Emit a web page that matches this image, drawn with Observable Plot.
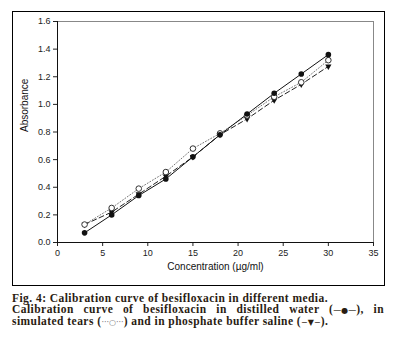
<!DOCTYPE html>
<html>
<head>
<meta charset="utf-8">
<script src="https://cdn.jsdelivr.net/npm/d3@7"></script>
<script src="https://cdn.jsdelivr.net/npm/@observablehq/plot@0.6"></script>
<style>
  html, body { margin: 0; padding: 0; background: #fff; }
  #wrap { position: relative; width: 401px; height: 353px; overflow: hidden; }
  #frame { position: absolute; left: 12px; top: 11px; width: 371px; height: 273px; border: 1px solid #000; pointer-events: none; }
  #chart { position: absolute; left: 0; top: 0; }
  #caption { position: absolute; left: 12px; top: 293px; width: 372px;
    font-family: "Liberation Serif", "DejaVu Serif", serif; font-weight: bold; font-size: 11.5px;
    letter-spacing: 0.45px; line-height: 10.6px; color: #2a1c12; }
  #caption div { white-space: nowrap; }
  #caption .just { text-align: justify; text-align-last: justify; white-space: normal; }
  .g { display: inline-block; font-family: "DejaVu Sans", sans-serif; font-weight: normal; font-size: 8px; letter-spacing: 0; }
</style>
</head>
<body>
<div id="wrap">
  <div id="chart"></div>
  <div id="frame"></div>
  <div id="caption">
    <div>Fig. 4: Calibration curve of besifloxacin in different media.</div>
    <div class="just">Calibration curve of besifloxacin in distilled water (<span class="g">—●—</span>), in</div>
    <div>simulated tears (<span class="g" style="color:#777">···○···</span>) and in phosphate buffer saline (<span class="g">−▼−</span>).</div>
  </div>
</div>
<script>
const concentration = [3, 6, 9, 12, 15, 18, 21, 24, 27, 30];
const distilledWater = [0.07, 0.20, 0.34, 0.46, 0.62, 0.78, 0.93, 1.08, 1.22, 1.36];
const simulatedTears = [0.13, 0.25, 0.39, 0.51, 0.68, 0.79, 0.92, 1.055, 1.16, 1.32];
const phosphateBuffer = [0.13, 0.22, 0.35, 0.48, 0.62, 0.78, 0.895, 1.03, 1.145, 1.275];
const xTicks = [0, 5, 10, 15, 20, 25, 30, 35];
const yTicks = [0.0, 0.2, 0.4, 0.6, 0.8, 1.0, 1.2, 1.4, 1.6];

const mk = (vals) => concentration.map((c, i) => ({x: c, y: vals[i]}));
const water = mk(distilledWater);
const tears = mk(simulatedTears);
const pbs = mk(phosphateBuffer);

const triangleDown = {
  draw(context, size) {
    const s = Math.sqrt(size) * 1.1;
    const h = s * Math.sqrt(3) / 2;
    context.moveTo(-s / 2, -h / 3);
    context.lineTo(s / 2, -h / 3);
    context.lineTo(0, 2 * h / 3);
    context.closePath();
  }
};

const chart = Plot.plot({
  width: 401,
  height: 290,
  marginLeft: 57,
  marginRight: 28,
  marginTop: 21,
  marginBottom: 48,
  style: {fontFamily: "Liberation Sans, Arial, sans-serif", fontSize: "9px", color: "#222", background: "transparent"},
  x: {domain: [0, 35]},
  y: {domain: [0, 1.6]},
  marks: [
    Plot.ruleY([1.6], {stroke: "#888", strokeWidth: 1}),
    Plot.ruleX([35], {stroke: "#888", strokeWidth: 1}),
    Plot.axisX({ticks: xTicks, tickSize: 4, tickPadding: 3, stroke: "#222", label: null}),
    Plot.axisY({ticks: yTicks, tickSize: 4, tickPadding: 3, stroke: "#222", tickFormat: d3.format(".1f"), label: null}),
    Plot.ruleX([0], {stroke: "#111"}),
    Plot.ruleY([0], {stroke: "#111"}),
    Plot.text(["Concentration (µg/ml)"], {frameAnchor: "bottom", dy: 27, fontSize: 10, fill: "#111"}),
    Plot.text(["Absorbance"], {frameAnchor: "left", dx: -33, rotate: -90, fontSize: 10, fill: "#111"}),
    Plot.line(tears, {x: "x", y: "y", stroke: "#777", strokeWidth: 1, strokeDasharray: "1,2"}),
    Plot.line(pbs, {x: "x", y: "y", stroke: "#222", strokeWidth: 1, strokeDasharray: "5,3"}),
    Plot.line(water, {x: "x", y: "y", stroke: "#111", strokeWidth: 1}),
    Plot.dot(pbs, {x: "x", y: "y", symbol: triangleDown, r: 3.2, fill: "#111", stroke: "none"}),
    Plot.dot(tears, {x: "x", y: "y", symbol: "circle", r: 2.8, fill: "#fff", stroke: "#333", strokeWidth: 1}),
    Plot.dot(water, {x: "x", y: "y", symbol: "circle", r: 2.8, fill: "#111", stroke: "none"})
  ]
});
document.getElementById("chart").appendChild(chart);
</script>
</body>
</html>
